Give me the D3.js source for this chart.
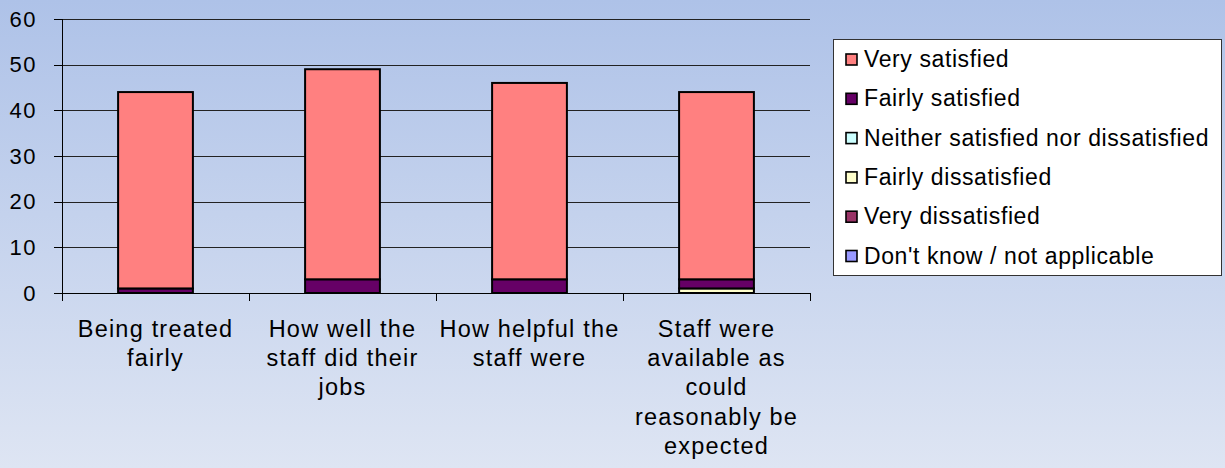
<!DOCTYPE html>
<html><head><meta charset="utf-8">
<script src="https://cdn.jsdelivr.net/npm/d3@7/dist/d3.min.js"></script>
<style>body{margin:0;} svg{display:block;}</style>
</head><body>
<script>
const categories = [
  ["Being treated", "fairly"],
  ["How well the", "staff did their", "jobs"],
  ["How helpful the", "staff were"],
  ["Staff were", "available as", "could", "reasonably be", "expected"]
];
const seriesNames = ["Very satisfied","Fairly satisfied","Neither satisfied nor dissatisfied","Fairly dissatisfied","Very dissatisfied","Don't know / not applicable"];
const seriesColors = ["#FF8080","#660066","#CCFFFF","#FFFFCC","#993366","#9999FF"];
const verySatisfied = [43, 46, 43, 41];
const fairlySatisfied = [1, 3, 3, 2];
const neither = [0, 0, 0, 0];
const fairlyDissatisfied = [0, 0, 0, 1];
const veryDissatisfied = [0, 0, 0, 0];
const dontKnow = [0, 0, 0, 0];
const yTicks = [0, 10, 20, 30, 40, 50, 60];

(function(){
const W = 1225, H = 468;
const svg = d3.select("body").append("svg").attr("width", W).attr("height", H);
const defs = svg.append("defs");
const grad = defs.append("linearGradient").attr("id","bg").attr("x1",0).attr("y1",0).attr("x2",0).attr("y2",1);
grad.append("stop").attr("offset","0%").attr("stop-color","#AEC2E8");
grad.append("stop").attr("offset","100%").attr("stop-color","#DEE5F3");
svg.append("rect").attr("width",W).attr("height",H).attr("fill","url(#bg)");

const font = "'Liberation Sans', Arial, sans-serif";
const pLeft = 62, pRight = 810, pTop = 19, pBottom = 293;
const x = d3.scaleBand().domain(d3.range(categories.length)).range([pLeft, pRight]).paddingInner(0.6).paddingOuter(0.3);
const xOuter = d3.scaleBand().domain(d3.range(categories.length)).range([pLeft, pRight]);
const y = d3.scaleLinear().domain([0, 60]).range([pBottom, pTop]);

svg.append("g").selectAll("line").data(yTicks.filter(d=>d>0)).join("line")
  .attr("x1", pLeft).attr("x2", pRight).attr("y1", d=>Math.round(y(d))+0.5).attr("y2", d=>Math.round(y(d))+0.5)
  .attr("stroke","#222").attr("stroke-width",1);

const yAxis = svg.append("g").attr("transform",`translate(${pLeft},0)`)
  .call(d3.axisLeft(y).tickValues(yTicks).tickSize(8).tickPadding(17).tickFormat(d3.format("d")));
yAxis.select(".domain").attr("stroke","#000").attr("shape-rendering","crispEdges");
yAxis.selectAll(".tick line").attr("stroke","#000").attr("shape-rendering","crispEdges");
yAxis.selectAll("text").attr("font-family",font).attr("font-size",22).attr("letter-spacing","1.5px").attr("fill","#000");

svg.append("line").attr("x1",pLeft).attr("x2",pRight).attr("y1",pBottom).attr("y2",pBottom)
  .attr("stroke","#000").attr("shape-rendering","crispEdges");
svg.append("g").selectAll("line").data(d3.range(categories.length+1)).join("line")
  .attr("x1", d=> d<categories.length ? xOuter(d) : pRight).attr("x2", d=> d<categories.length ? xOuter(d) : pRight)
  .attr("y1", pBottom).attr("y2", pBottom+8).attr("stroke","#000").attr("shape-rendering","crispEdges");

const seriesData = [verySatisfied, fairlySatisfied, neither, fairlyDissatisfied, veryDissatisfied, dontKnow];
const order = [5,4,3,2,1,0];
const rows = categories.map((c,i)=>{ const o={idx:i}; seriesData.forEach((s,k)=>o[k]=s[i]); return o;});
const stack = d3.stack().keys(order)(rows);
const barsG = svg.append("g");
stack.forEach(layer=>{
  const k = layer.key;
  barsG.append("g").selectAll("rect").data(layer.filter(d=>d[1]-d[0]>0)).join("rect")
    .attr("x", d=>x(d.data.idx)).attr("width", x.bandwidth())
    .attr("y", d=>y(d[1])).attr("height", d=>y(d[0])-y(d[1]))
    .attr("fill", seriesColors[k]).attr("stroke","#000").attr("stroke-width",2);
});

const lab = svg.append("g");
categories.forEach((lines,i)=>{
  const cx = xOuter(i)+xOuter.bandwidth()/2;
  const t = lab.append("text").attr("x", cx).attr("y", 337)
    .attr("text-anchor","middle").attr("font-family",font).attr("font-size",23.5)
    .attr("letter-spacing","1.2px").attr("fill","#000");
  lines.forEach((ln,j)=> t.append("tspan").attr("x", cx).attr("dy", j===0?0:29.2).text(ln));
});

const lg = svg.append("g");
lg.append("rect").attr("x",833.5).attr("y",39.5).attr("width",388).attr("height",236)
  .attr("fill","#fff").attr("stroke","#333").attr("stroke-width",1);
seriesNames.forEach((n,i)=>{
  const cy = 59.5 + i*39.3;
  lg.append("rect").attr("x",846).attr("y",cy-5.5).attr("width",11).attr("height",11)
    .attr("fill",seriesColors[i]).attr("stroke","#000").attr("stroke-width",1.6);
  lg.append("text").attr("x",864).attr("y",cy+7.5).attr("font-family",font).attr("font-size",23)
    .attr("letter-spacing","0.6px").attr("fill","#000").text(n);
});
})();
</script>
</body></html>
